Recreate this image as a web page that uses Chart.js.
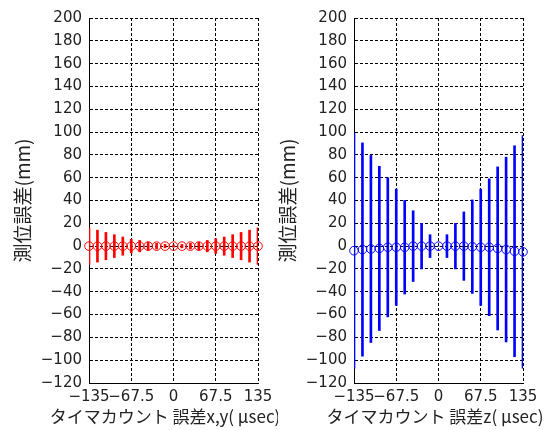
<!DOCTYPE html>
<html>
<head>
<meta charset="utf-8">
<script src="https://cdn.jsdelivr.net/npm/chart.js@4.4.0/dist/chart.umd.min.js"></script>
<style>
  body { margin: 0; background: #fff; width: 556px; height: 430px; position: relative; overflow: hidden; }
  #xyChart { position: absolute; left: 0; top: 0; }
  #zChart { position: absolute; left: 265px; top: 0; }
</style>
</head>
<body>
<canvas id="xyChart" width="278" height="430"></canvas>
<canvas id="zChart" width="291" height="430"></canvas>
<script>
// timer count error (usec) on the x axis
let timerError = [-135, -121.5, -108, -94.5, -81, -67.5, -54, -40.5, -27, -13.5, 0,
                  13.5, 27, 40.5, 54, 67.5, 81, 94.5, 108, 121.5, 135];
let xTicks = [-135, -67.5, 0, 67.5, 135];

// x,y positioning error (mm): mean and error bar half-length
let xyMean = [0, 0, 0, 0, 0, 0, 0, 0, 0, 0, 0, 0, 0, 0, 0, 0, 0, 0, 0, 0, 0];
let xyErr  = [16, 14, 12, 10, 8, 6, 5, 3.5, 2.5, 1.5, 1, 1.5, 2.5, 3.5, 5, 6.5, 8, 10, 12, 14, 16];

// z positioning error (mm)
let zMean = [-4, -3, -2.5, -2, -1, -1, -1, 0, 0, 0, 0, 0, 0, 0, -0.5, -1, -1, -2, -3, -4.5, -5];
let zErr  = [103, 93.5, 82, 72, 61, 51, 41, 31, 20, 10, 0, 10, 20, 30, 41, 51, 60, 71.5, 81, 92.5, 102];

const minus = v => String(v).replace('-', '\u2212');

// the x title is wider than the plot, so draw it ourselves (the built-in one gets squeezed)
const xTitlePlugin = {
    id: 'xTitle',
    afterDraw(chart, args, opts) {
        let ctx = chart.ctx;
        ctx.save();
        ctx.font = '17px "Noto Sans CJK JP"';
        ctx.fillStyle = '#222';
        ctx.textAlign = 'center';
        ctx.textBaseline = 'middle';
        ctx.fillText(opts.text, opts.centerX, 417);
        ctx.restore();
    }
};

function makeScales() {
    return {
        x: {
            type: 'linear', min: -135, max: 135, offset: false,
            afterBuildTicks: s => { s.ticks = xTicks.map(v => ({ value: v })); },
            afterFit: s => { s.height = 47; },
            grid: { color: '#000', lineWidth: 1, drawTicks: false, offset: false },
            border: { display: true, color: '#000', width: 1, dash: [3, 2] },
            ticks: {
                color: '#222', font: { family: 'DejaVu Sans', size: 15 },
                padding: 5, autoSkip: false, maxRotation: 0,
                callback: v => minus(v)
            }
        },
        y: {
            type: 'linear', min: -120, max: 200,
            afterFit: s => { s.width = 89; },
            grid: { color: '#000', lineWidth: 1, drawTicks: false },
            border: { display: true, color: '#000', width: 1, dash: [3, 2] },
            ticks: {
                stepSize: 20, color: '#222', font: { family: 'DejaVu Sans', size: 15 },
                padding: 7, callback: v => minus(v)
            },
            title: {
                display: true, text: '測位誤差(mm)', color: '#222',
                font: { family: 'Noto Sans CJK JP', size: 19 },
                padding: { top: 11, bottom: 0 }
            }
        }
    };
}

function makeChart(id, mean, err, color, xTitle, titleX, rightPad) {
    let ctx = document.getElementById(id).getContext('2d');
    return new Chart(ctx, {
        type: 'bar',
        data: {
            datasets: [{
                type: 'bar',
                data: timerError.map((x, i) => ({ x: x, y: [mean[i] - err[i], mean[i] + err[i]] })),
                backgroundColor: color,
                borderWidth: 0,
                barThickness: 2
            }, {
                type: 'line',
                showLine: false,
                data: timerError.map((x, i) => ({ x: x, y: mean[i] })),
                pointStyle: 'circle',
                pointRadius: 4.3,
                pointBorderWidth: 1,
                borderColor: color,
                pointBorderColor: color,
                pointBackgroundColor: 'rgba(0,0,0,0)',
                clip: false
            }]
        },
        options: {
            responsive: false,
            animation: false,
            layout: { padding: { top: 18, right: rightPad, left: 0, bottom: 0 } },
            plugins: {
                legend: { display: false },
                tooltip: { enabled: false },
                xTitle: { text: xTitle, centerX: titleX }
            },
            scales: makeScales()
        },
        plugins: [xTitlePlugin]
    });
}

makeChart('xyChart', xyMean, xyErr, '#ff0000', 'タイマカウント 誤差x,y( μsec)', 165, 20);
makeChart('zChart', zMean, zErr, '#0000ff', 'タイマカウント 誤差z( μsec)', 170, 33);
</script>
</body>
</html>
